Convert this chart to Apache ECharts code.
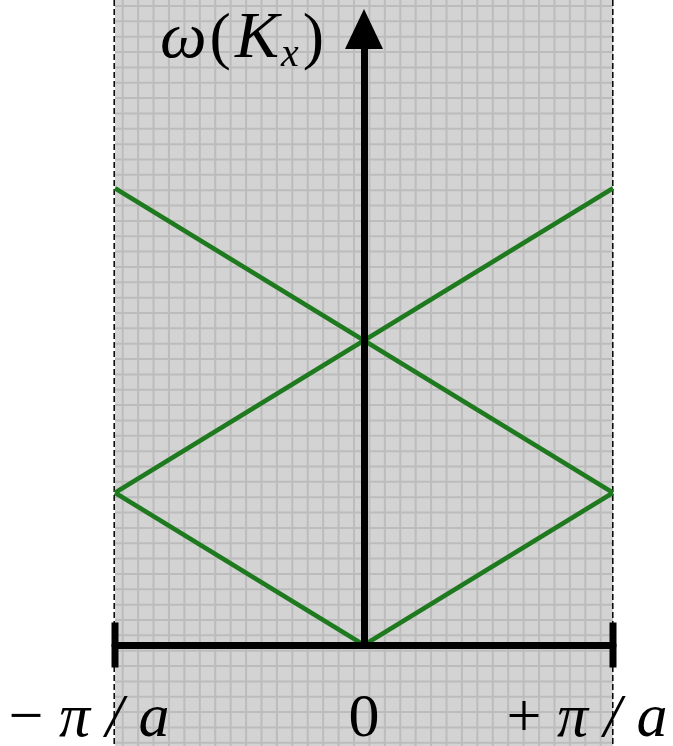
<!DOCTYPE html>
<html>
<head>
<meta charset="utf-8">
<style>
  html, body { margin: 0; padding: 0; background: #ffffff; }
  #chart { width: 673px; height: 746px; }
</style>
<script src="https://cdn.jsdelivr.net/npm/echarts@6/dist/echarts.min.js"></script>
</head>
<body>
<div id="chart"></div>
<script>
// Reduced wave vector K_x across the first Brillouin zone (units of π/a)
const kx = [-1, 0, 1];
// Folded dispersion branches ω(K_x), in units of the zone-boundary frequency
const branchLow = [1, 0, 1];      // ω = |K|
const branchRise = [1, 2, 3];     // ω = 2 + K
const branchFall = [3, 2, 1];     // ω = 2 − K
// Tick positions and their labels on the K_x axis
const kTicks = [-1, 0, 1];
const kTickLabels = ['{s|−} {i|π} {i|/} {i|a}{g| }', '{s|0}', '{s|+} {i|π} {i|/} {i|a}{g| }'];
const axisTitle = '{w|ω}{s|(}{i|K}{sub|x}{p|)}';

const W = 673, H = 746;
const zoneLeft = 115, zoneRight = 613;

// Graph-paper background behind the Brillouin zone
const paper = [];
paper.push({
  type: 'rect', z: -30, silent: true,
  shape: { x: zoneLeft, y: 0, width: zoneRight - zoneLeft, height: H },
  style: { fill: '#d3d3d3' }
});
for (let x = 122.7; x < zoneRight - 2; x += 15.42) {
  paper.push({
    type: 'line', z: -20, silent: true,
    shape: { x1: x, y1: 0, x2: x, y2: H },
    style: { stroke: '#bcbcbc', lineWidth: 2 }
  });
}
for (let y = 6; y < H; y += 15.35) {
  paper.push({
    type: 'line', z: -20, silent: true,
    shape: { x1: zoneLeft, y1: y, x2: zoneRight, y2: y },
    style: { stroke: '#bcbcbc', lineWidth: 2 }
  });
}
[zoneLeft - 0.8, zoneRight - 0.2].forEach(function (x) {
  paper.push({
    type: 'line', z: -10, silent: true,
    shape: { x1: x, y1: 0, x2: x, y2: H },
    style: { stroke: '#000000', lineWidth: 1.5, lineDash: [6, 3] }
  });
});

const serif = '"Liberation Serif", "DejaVu Serif", serif';
const pair = (xs, ys) => xs.map((k, i) => [k, ys[i]]);
const green = '#1f7a1f';

const chart = echarts.init(document.getElementById('chart'), null, { renderer: 'canvas' });
chart.setOption({
  animation: false,
  backgroundColor: '#ffffff',
  graphic: paper,
  grid: {
    left: zoneLeft, right: W - zoneRight, top: 36, bottom: 101,
    containLabel: false, outerBoundsMode: 'none'
  },
  xAxis: {
    type: 'value', min: -1, max: 1, interval: 1, z: 5,
    axisLine: {
      onZero: true,
      symbol: ['rect', 'rect'], symbolSize: [45, 7],
      lineStyle: { color: '#000', width: 7 }
    },
    axisTick: { show: false },
    splitLine: { show: false },
    axisLabel: {
      margin: 44,
      fontFamily: serif, fontSize: 62, color: '#000',
      formatter: function (v) { return kTickLabels[kTicks.indexOf(v)]; },
      rich: {
        s: { fontFamily: serif, fontSize: 62, color: '#000' },
        i: { fontFamily: serif, fontSize: 62, fontStyle: 'italic', color: '#000' },
        g: { width: 52, fontSize: 62 }
      }
    }
  },
  yAxis: {
    type: 'value', min: 0, max: 4, z: 5,
    axisLine: {
      onZero: true,
      symbol: ['none', 'triangle'], symbolSize: [38, 40], symbolOffset: [0, 7],
      lineStyle: { color: '#000', width: 7 }
    },
    axisTick: { show: false },
    axisLabel: { show: false },
    splitLine: { show: false },
    name: axisTitle,
    nameLocation: 'end',
    nameGap: -4,
    nameTextStyle: {
      align: 'right', verticalAlign: 'middle',
      padding: [0, 40, 0, 0],
      fontFamily: serif, fontSize: 64, color: '#000',
      rich: {
        w: { fontFamily: serif, fontSize: 66, fontStyle: 'italic', color: '#000', padding: [0, 3, 0, 0] },
        s: { fontFamily: serif, fontSize: 64, color: '#000' },
        i: { fontFamily: serif, fontSize: 66, fontStyle: 'italic', color: '#000', padding: [0, 0, 0, 4] },
        sub: { fontFamily: serif, fontSize: 40, fontStyle: 'italic', color: '#000', padding: [30, 0, 0, 2] },
        p: { fontFamily: serif, fontSize: 64, color: '#000', padding: [0, 0, 0, 4] }
      }
    }
  },
  series: [
    { type: 'line', z: 2, data: pair(kx, branchLow), symbol: 'none', lineStyle: { color: green, width: 4.5 } },
    { type: 'line', z: 2, data: pair(kx, branchRise), symbol: 'none', lineStyle: { color: green, width: 4.5 } },
    { type: 'line', z: 2, data: pair(kx, branchFall), symbol: 'none', lineStyle: { color: green, width: 4.5 } }
  ]
});
</script>
</body>
</html>
